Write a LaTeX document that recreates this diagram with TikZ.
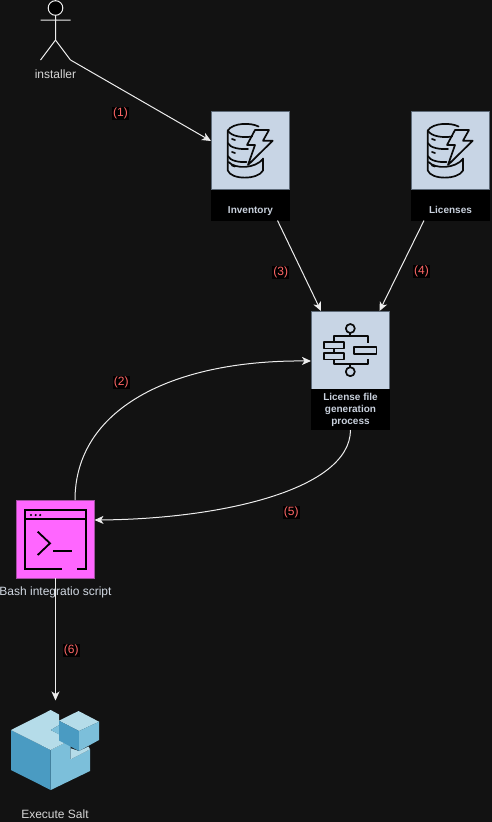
\documentclass[tikz,border=0pt]{standalone}
\usepackage{fontspec}
\setmainfont{Liberation Sans}
\usetikzlibrary{arrows.meta,calc}
\definecolor{bgdark}{HTML}{121212}
\definecolor{boxblue}{HTML}{C8D5E5}
\definecolor{boxedge}{HTML}{5E6A78}
\definecolor{labelgrey}{HTML}{C9D1DD}
\definecolor{textgrey}{HTML}{D6D6D6}
\definecolor{numred}{HTML}{FF6666}
\definecolor{bashpink}{HTML}{FF66FF}
\definecolor{pinkedge}{HTML}{A34FA3}
\definecolor{cubelight}{HTML}{B5DCE9}
\definecolor{cubemid}{HTML}{7CBFDA}
\definecolor{cubedark}{HTML}{4A9BC2}
\definecolor{iconink}{HTML}{0A0A0A}
\tikzset{
  iconbox/.style={draw=boxedge,fill=boxblue,line width=1pt,minimum width=78pt,minimum height=78pt,inner sep=0pt,outer sep=0pt},
  caption/.style={fill=black,text=labelgrey,font=\fontsize{10}{12}\selectfont\bfseries,minimum width=79.5pt,inner sep=0pt,outer sep=0pt,align=center},
  plainlabel/.style={text=textgrey,font=\fontsize{12}{14}\selectfont,inner sep=0pt},
  numlabel/.style={fill=black,text=numred,font=\fontsize{12}{14}\selectfont,inner sep=1pt},
  link/.style={draw=white!93!black,line width=1pt,-{Stealth[length=9pt,width=8pt,inset=2.5pt]}},
  icon/.style={draw=iconink,line width=1.7pt,line cap=round,line join=round},
  icond/.style={draw=black,line width=1.8pt,line cap=butt,line join=miter},
  hidden/.style={inner sep=0pt,outer sep=0pt}
}
\begin{document}
\begin{tikzpicture}[x=1pt,y=-1pt]
\useasboundingbox (0,0) rectangle (492,822);
\fill[bgdark] (0,0) rectangle (492,822);

% actor
\node[hidden,minimum width=30pt,minimum height=60pt] (actor) at (55.5,30) {};
\draw[white!93!black,line width=1pt,fill=black] (55.5,8) circle (7.3);
\draw[white!93!black,line width=1pt] (55.5,15.3) -- (55.5,40) (40.5,20) -- (70.5,20)
   (40.5,60) -- (55.5,40) -- (70.5,60);
\node[plainlabel] (installer) at (55.5,74) {installer};

% inventory
\node[iconbox] (inv) at (250,150) {};
\node[caption,minimum height=31pt] (invlabel) at (250.5,205) {\raisebox{-8.5pt}[0pt][0pt]{Inventory}};
% licenses
\node[iconbox] (lic) at (450,150) {};
\node[caption,minimum height=31pt] (liclabel) at (450.5,205) {\raisebox{-8.5pt}[0pt][0pt]{Licenses}};
% database icons
\foreach \dx in {0,200}{
\begin{scope}[xshift=\dx pt]
  \draw[icon] (258.5,126.5) .. controls (251,122.5) and (233,122.5) .. (227.8,130.5) .. controls (231,136.5) and (243,138) .. (252,136.5);
  \draw[icon] (227.8,130.5) -- (227.8,143) .. controls (230,148) and (240,149.5) .. (248,149);
  \draw[icon] (227.8,143) -- (227.8,156) .. controls (230,161) and (240,162.5) .. (246.5,162);
  \draw[icon] (227.8,156) -- (227.8,170.5) .. controls (231,180) and (258,180) .. (263,170.5) -- (263,158.5);
  \draw[icon] (228.5,162) .. controls (236,169.5) and (255,168.5) .. (263,159);
  \draw[icon] (232,139) -- (235,140) (232,152) -- (235,153) (232,165.5) -- (235,166.5);
  \draw[icon] (255,130) -- (269,130) -- (263,140.7) -- (272.7,140.7) -- (248,165) -- (255,145) -- (247,145) -- cycle;
\end{scope}}

% process
\node[iconbox] (proc) at (350,350) {};
\node[caption,minimum height=41pt] (proclabel) at (350.5,409.5) {License file\\generation\\process};
\begin{scope}[icon,line cap=butt]
  \draw (350.3,328.5) circle (4.5) (350.3,371.7) circle (4.5);
  \draw (350.3,333) -- (350.3,336);
  \draw (334,342) -- (334,336) -- (368,336) -- (368,343);
  \draw (334,348.5) -- (334,353);
  \draw (334,359.5) -- (334,364) -- (368,364) -- (368,359);
  \draw (350.3,364) -- (350.3,367.2);
  \draw (324,341.8) rectangle (344,348.4);
  \draw (324,352.8) rectangle (344,359.4);
  \draw (354,346.8) rectangle (376.5,354.2);
\end{scope}

% bash
\node[draw=pinkedge,fill=bashpink,line width=1pt,minimum width=78pt,minimum height=78pt,inner sep=0pt,outer sep=0pt] (bash) at (55.5,539) {};
\draw[icond] (61.7,568.7) -- (25,568.7) -- (25,510.3) -- (86,510.3) -- (86,568.7) -- (77,568.7);
\draw[icond] (25,519) -- (86,519);
\fill[black] (31,515) circle (1.2) (35.7,515) circle (1.2) (40.2,515) circle (1.2);
\draw[icond] (37.7,531.7) -- (50,543.3) -- (37.7,555);
\draw[icond] (53.3,550.7) -- (71.7,550.7);
\node[plainlabel,text=labelgrey!85!white] (bashlabel) at (55.5,592.7) {Bash integratio script};

% salt cube
\node[hidden,minimum width=88pt,minimum height=80pt] (cube) at (55,750) {};
\fill[cubemid] (50.7,750) -- (70.7,740) -- (70.7,759.3) -- (90,749.3) -- (90,771) -- (50.7,790) -- cycle;
\fill[cubelight] (70.7,748.3) -- (79,751) -- (88.5,746.5) -- (90,749.3) -- (70.7,759.3) -- cycle;
\fill[cubedark] (11,730) -- (50.7,750) -- (50.7,790) -- (11,770) -- cycle;
\fill[cubelight] (11,730) -- (50.7,710) -- (59,714.5) -- (59,725) -- (50.7,730) -- (70.7,740) -- (50.7,750) -- cycle;
\fill[cubemid] (50.7,730) -- (59,725) -- (59,734.5) -- cycle;
\fill[cubelight] (59,720.7) -- (78.5,711) -- (99,721.7) -- (79,731) -- cycle;
\fill[cubedark] (59,720.7) -- (79,731) -- (79,751) -- (59,740.5) -- cycle;
\fill[cubemid] (79,731) -- (99,721.7) -- (99,740) -- (79,751) -- cycle;
\node[plainlabel] (saltlabel) at (55,814) {Execute Salt};

% connectors
\draw[link] (actor.south east) -- ($(inv.west)+(0,-9)$);
\draw[link] ($(invlabel.south)+(27,0)$) -- ($(proc.north)+(-29,0)$);
\draw[link] ($(liclabel.south)+(-26.5,0)$) -- ($(proc.north)+(29.5,0)$);
\draw[link] ($(bash.north)+(19.5,0)$) .. controls (75,410) and (170,360) .. ($(proc.west)+(0,11)$);
\draw[link] (proclabel.south) .. controls (350,490) and (220,519) .. ($(bash.east)+(0,-19)$);
\draw[link] (bash.south) -- ($(cube.north)+(0.5,-9.5)$);

% numbers
\node[numlabel] (n1) at (120.5,113.3) {(1)};
\node[numlabel] (n2) at (121.3,382.3) {(2)};
\node[numlabel] (n3) at (280.7,272.3) {(3)};
\node[numlabel] (n4) at (421.5,271.3) {(4)};
\node[numlabel] (n5) at (291.3,512.3) {(5)};
\node[numlabel] (n6) at (71.3,650.3) {(6)};
\end{tikzpicture}
\end{document}
